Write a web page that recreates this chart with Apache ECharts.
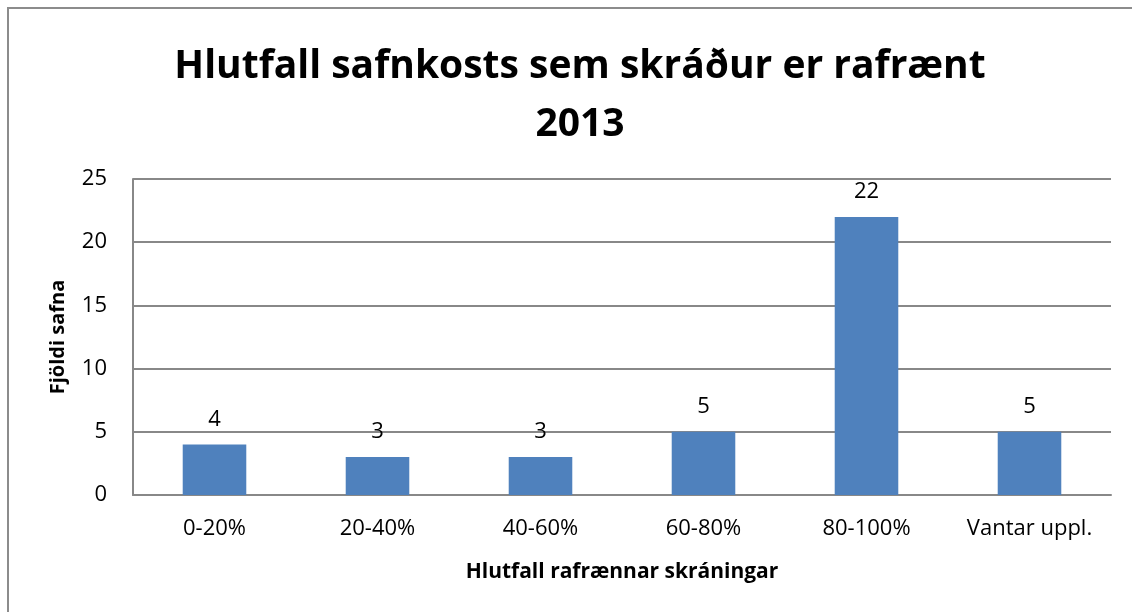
<!DOCTYPE html>
<html>
<head>
<meta charset="utf-8">
<script src="https://cdn.jsdelivr.net/npm/echarts@6/dist/echarts.min.js"></script>
<style>
  html, body { margin: 0; padding: 0; background: #fff; }
  #frame { position: absolute; left: 7px; top: 7px; width: 1140px; height: 620px; border: 2px solid #8c8c8c; box-sizing: border-box; }
  #chart { position: absolute; left: 0; top: 0; width: 1132px; height: 612px; }
</style>
</head>
<body>
<div id="frame"></div>
<div id="chart"></div>
<script>
const categories = ["0-20%", "20-40%", "40-60%", "60-80%", "80-100%", "Vantar uppl."];
const counts = [4, 3, 3, 5, 22, 5];
const font = "'Open Sans', 'Noto Sans', sans-serif";

const chart = echarts.init(document.getElementById("chart"));
chart.setOption({
  animation: false,
  title: {
    text: "Hlutfall safnkosts sem skráður er rafrænt\n2013",
    left: 575,
    textAlign: "center",
    top: 33,
    textStyle: { fontFamily: font, fontSize: 39, fontWeight: "bold", color: "#000", lineHeight: 58 }
  },
  grid: { left: 133, right: 21, top: 179, bottom: 117 },
  xAxis: {
    type: "category",
    data: categories,
    name: "Hlutfall rafrænnar skráningar",
    nameLocation: "middle",
    nameGap: 67,
    nameTextStyle: { fontFamily: font, fontSize: 21, fontWeight: "bold", color: "#000" },
    axisLine: { lineStyle: { color: "#888", width: 2 } },
    axisTick: { show: false },
    axisLabel: { fontFamily: font, fontSize: 22, color: "#000", margin: 23 }
  },
  yAxis: {
    type: "value",
    min: 0,
    max: 25,
    interval: 5,
    name: "Fjöldi safna",
    nameLocation: "middle",
    nameGap: 65,
    nameTextStyle: { fontFamily: font, fontSize: 20, fontWeight: "bold", color: "#000" },
    axisLine: { show: true, lineStyle: { color: "#888", width: 2 } },
    axisTick: { show: false },
    axisLabel: { fontFamily: font, fontSize: 22, color: "#000", margin: 26 },
    splitLine: { lineStyle: { color: "#888", width: 2 } }
  },
  series: [{
    type: "bar",
    data: counts,
    barWidth: "39%",
    itemStyle: { color: "#4F81BD" },
    label: { show: true, position: "top", distance: 14, fontFamily: font, fontSize: 22, color: "#000" }
  }]
});
</script>
</body>
</html>
